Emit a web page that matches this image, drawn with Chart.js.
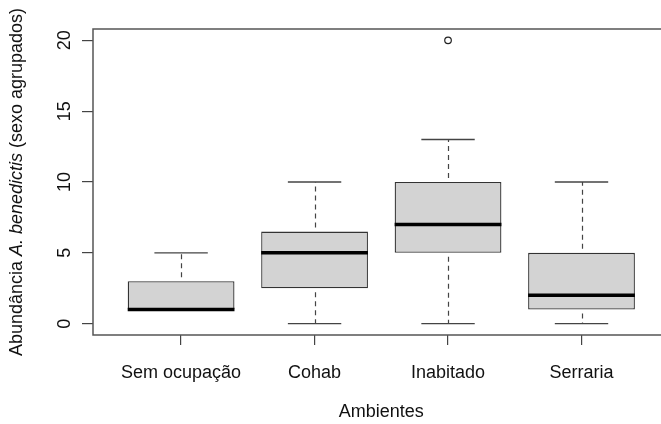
<!DOCTYPE html>
<html>
<head>
<meta charset="utf-8">
<script src="https://cdn.jsdelivr.net/npm/chart.js@4/dist/chart.umd.min.js"></script>
<style>
  html, body { margin: 0; padding: 0; background: #ffffff; overflow: hidden; width: 661px; height: 424px; }
  #wrap { position: absolute; left: 0; top: 0; width: 690px; height: 424px; }
</style>
</head>
<body>
<div id="wrap"><canvas id="c" width="690" height="424"></canvas></div>
<script>
// ---- data ----
const categories   = ["Sem ocupação", "Cohab", "Inabitado", "Serraria"];
const lowWhisker   = [1, 0, 0, 0];
const q1           = [1, 2.5, 5, 1];
const medians      = [1, 5, 7, 2];
const q3           = [3, 6.5, 10, 5];
const highWhisker  = [5, 10, 13, 10];
const outliers     = [[], [], [20], []];
const yTicks       = [0, 5, 10, 15, 20];
const xTitle       = "Ambientes";
const yTitleParts  = [
  { text: "Abundância ", italic: false },
  { text: "A. benedictis", italic: true },
  { text: " (sexo agrupados)", italic: false }
];

const FONT = "'Liberation Sans', Arial, sans-serif";
const FS = 18;
const TEXT = "#111111";
const positions = categories.map((_, i) => i + 1);

const boxData = positions.map((x, i) => ({ x: x, y: [q1[i], q3[i]] }));

const boxPlugin = {
  id: 'boxParts',
  beforeDatasetsDraw(chart) {
    const { ctx, scales: { x, y } } = chart;
    ctx.save();
    ctx.strokeStyle = '#444444';
    ctx.lineWidth = 1.2;
    ctx.setLineDash([5, 4]);
    positions.forEach((p, i) => {
      const px = Math.round(x.getPixelForValue(p)) + 0.5;
      [[q3[i], highWhisker[i]], [q1[i], lowWhisker[i]]].forEach(([a, b]) => {
        if (a === b) return;
        ctx.lineDashOffset = 5;
        ctx.beginPath();
        ctx.moveTo(px, y.getPixelForValue(a));
        ctx.lineTo(px, y.getPixelForValue(b));
        ctx.stroke();
      });
    });
    ctx.restore();
  },
  afterDatasetsDraw(chart) {
    const { ctx, scales: { x, y } } = chart;
    ctx.save();
    positions.forEach((p, i) => {
      // caps
      ctx.strokeStyle = '#444444';
      ctx.lineWidth = 1.3;
      [lowWhisker[i], highWhisker[i]].forEach(v => {
        const py = y.getPixelForValue(v);
        ctx.beginPath();
        ctx.moveTo(x.getPixelForValue(p - 0.2), py);
        ctx.lineTo(x.getPixelForValue(p + 0.2), py);
        ctx.stroke();
      });
      // median
      ctx.strokeStyle = '#000000';
      ctx.lineWidth = 3.5;
      const my = y.getPixelForValue(medians[i]);
      ctx.beginPath();
      ctx.moveTo(x.getPixelForValue(p - 0.4), my);
      ctx.lineTo(x.getPixelForValue(p + 0.4), my);
      ctx.stroke();
      // outliers
      ctx.strokeStyle = '#222222';
      ctx.lineWidth = 1.2;
      outliers[i].forEach(v => {
        ctx.beginPath();
        ctx.arc(x.getPixelForValue(p), y.getPixelForValue(v), 3.3, 0, Math.PI * 2);
        ctx.stroke();
      });
    });
    ctx.restore();
  },
  afterDraw(chart) {
    const { ctx, chartArea: a, scales: { x, y } } = chart;
    ctx.save();
    // frame
    ctx.strokeStyle = '#555555';
    ctx.lineWidth = 1.5;
    ctx.strokeRect(a.left, a.top, a.right - a.left, a.bottom - a.top);
    // y tick labels (rotated, as in R)
    ctx.fillStyle = TEXT;
    ctx.font = FS + "px " + FONT;
    ctx.textAlign = 'center';
    ctx.textBaseline = 'alphabetic';
    yTicks.forEach(v => {
      ctx.save();
      ctx.translate(69.5, y.getPixelForValue(v));
      ctx.rotate(-Math.PI / 2);
      ctx.fillText(String(v), 0, 0);
      ctx.restore();
    });
    // x title
    ctx.fillText(xTitle, (a.left + a.right) / 2, 417);
    // y title with italic part
    const fonts = yTitleParts.map(pt => (pt.italic ? "italic " : "") + FS + "px " + FONT);
    let total = 0;
    const widths = yTitleParts.map((pt, k) => { ctx.font = fonts[k]; const w = ctx.measureText(pt.text).width; total += w; return w; });
    ctx.translate(22, (a.top + a.bottom) / 2);
    ctx.rotate(-Math.PI / 2);
    ctx.textAlign = 'left';
    let cx = -total / 2;
    yTitleParts.forEach((pt, k) => {
      ctx.font = fonts[k];
      ctx.fillText(pt.text, cx, 0);
      cx += widths[k];
    });
    ctx.restore();
  }
};

new Chart(document.getElementById('c'), {
  type: 'bar',
  data: {
    datasets: [{
      data: boxData,
      backgroundColor: '#d3d3d3',
      borderColor: '#333333',
      borderWidth: 1.3,
      borderSkipped: false,
      barPercentage: 0.8,
      categoryPercentage: 1.0
    }]
  },
  options: {
    responsive: false,
    devicePixelRatio: 1,
    animation: false,
    layout: { padding: { left: 0, top: 29, right: 20.4, bottom: 0 } },
    plugins: { legend: { display: false }, tooltip: { enabled: false } },
    scales: {
      x: {
        type: 'linear',
        min: 0.34, max: 4.66,
        offset: false,
        afterBuildTicks: s => { s.ticks = positions.map(v => ({ value: v })); },
        afterFit: s => { s.height = 89; },
        ticks: {
          callback: v => categories[v - 1],
          color: TEXT,
          font: { family: FONT, size: FS },
          padding: 17,
          maxRotation: 0, minRotation: 0,
          autoSkip: false
        },
        grid: { offset: false, drawOnChartArea: false, drawTicks: true, tickLength: 10, color: '#444444', lineWidth: 1.2 },
        border: { display: false }
      },
      y: {
        type: 'linear',
        min: -0.8, max: 20.8,
        afterBuildTicks: s => { s.ticks = yTicks.map(v => ({ value: v })); },
        afterFit: s => { s.width = 93; },
        ticks: { display: false },
        grid: { offset: false, drawOnChartArea: false, drawTicks: true, tickLength: 11, color: '#444444', lineWidth: 1.2 },
        border: { display: false }
      }
    }
  },
  plugins: [boxPlugin]
});
</script>
</body>
</html>
